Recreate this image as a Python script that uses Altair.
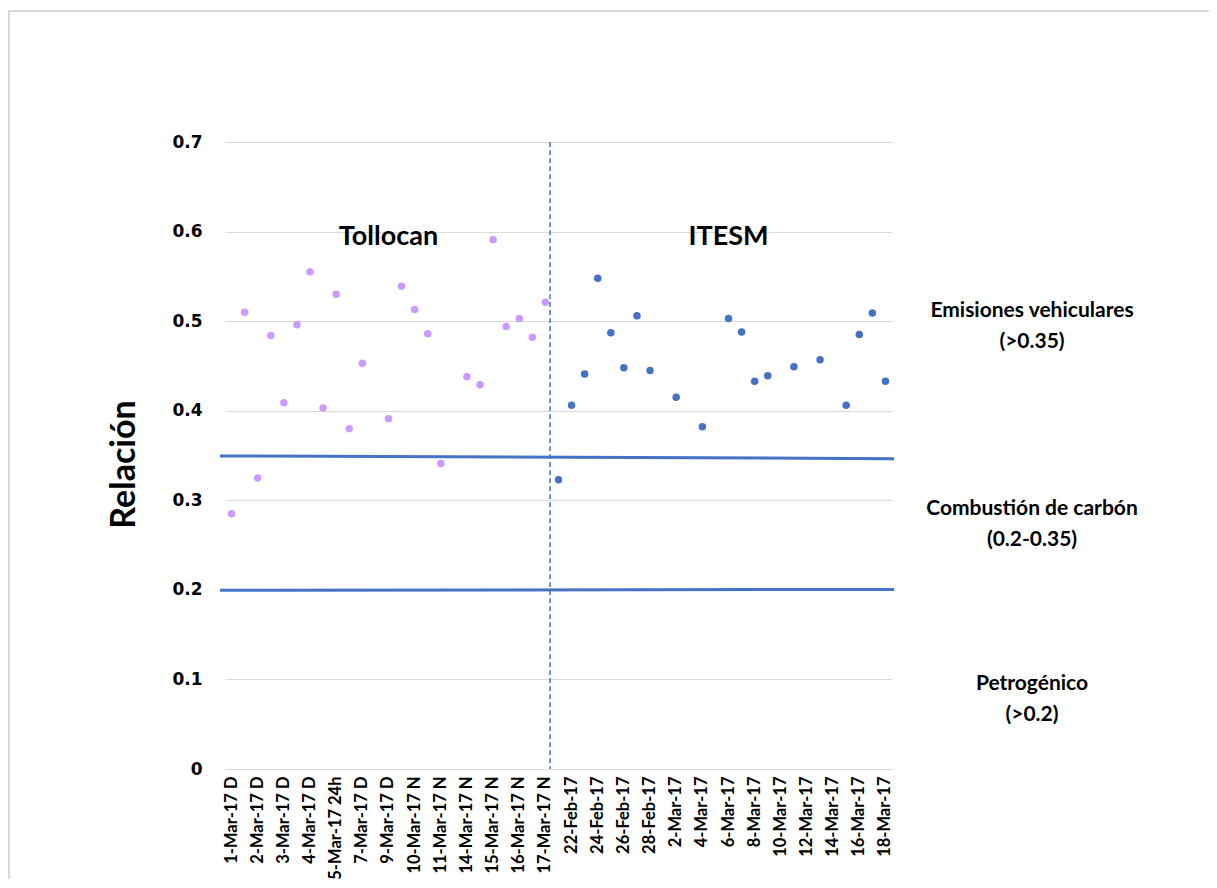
import altair as alt
import pandas as pd

# ---- data ----
tollocan_cats = [
    "1-Mar-17 D", "1-Mar-17 N", "2-Mar-17 D", "2-Mar-17 N", "3-Mar-17 D",
    "3-Mar-17 N", "4-Mar-17 D", "4-Mar-17 N", "5-Mar-17 24h", "6-Mar-17 24h",
    "7-Mar-17 D", "8-Mar-17 D", "9-Mar-17 D", "9-Mar-17 N", "10-Mar-17 N",
    "11-Mar-17 D", "11-Mar-17 N", "13-Mar-17 N", "14-Mar-17 N", "15-Mar-17 D",
    "15-Mar-17 N", "16-Mar-17 D", "16-Mar-17 N", "17-Mar-17 D", "17-Mar-17 N",
]
tollocan_vals = [
    0.285, 0.510, 0.325, 0.484, 0.409, 0.496, 0.555, 0.403, 0.530, 0.380,
    0.453, None, 0.391, 0.539, 0.513, 0.486, 0.341, None, 0.438, 0.429,
    0.591, 0.494, 0.503, 0.482, 0.521,
]
itesm_cats = [
    "21-Feb-17", "22-Feb-17", "23-Feb-17", "24-Feb-17", "25-Feb-17",
    "26-Feb-17", "27-Feb-17", "28-Feb-17", "1-Mar-17", "2-Mar-17",
    "3-Mar-17", "4-Mar-17", "5-Mar-17", "6-Mar-17", "7-Mar-17",
    "8-Mar-17", "9-Mar-17", "10-Mar-17", "11-Mar-17", "12-Mar-17",
    "13-Mar-17", "14-Mar-17", "15-Mar-17", "16-Mar-17", "17-Mar-17",
    "18-Mar-17",
]
itesm_vals = [
    0.323, 0.406, 0.441, 0.548, 0.487, 0.448, 0.506, 0.445, None, 0.415,
    None, 0.382, None, 0.503, 0.488, 0.433, 0.439, None, 0.449, None,
    0.457, None, 0.406, 0.485, 0.509, 0.433,
]
sites = ["Tollocan", "ITESM"]
site_colors = ["#CC99FF", "#4472C4"]
site_label_cats = ["9-Mar-17 D", "6-Mar-17"]
site_label_y = [0.594, 0.594]

threshold_y_start = [0.3495, 0.1995]
threshold_y_end = [0.3465, 0.2005]

zone_texts = ["Emisiones vehiculares\n(>0.35)", "Combustión de carbón\n(0.2-0.35)", "Petrogénico\n(>0.2)"]
zone_y = [0.511, 0.290, 0.095]

y_ticks = [0, 0.1, 0.2, 0.3, 0.4, 0.5, 0.6, 0.7]

# ---- tables ----
all_cats = tollocan_cats + itesm_cats
shown_labels = all_cats[::2]

rows = []
for c, v in zip(tollocan_cats, tollocan_vals):
    if v is not None:
        rows.append({"cat": c, "value": v, "site": "Tollocan"})
for c, v in zip(itesm_cats, itesm_vals):
    if v is not None:
        rows.append({"cat": c, "value": v, "site": "ITESM"})
points_df = pd.DataFrame(rows)

W, H = 667, 627
xscale = alt.Scale(domain=all_cats, type="band", paddingInner=0, paddingOuter=0)
yscale = alt.Scale(domain=[0, 0.7], nice=False)

x_axis = alt.Axis(
    title=None, values=shown_labels, labelAngle=-90, labelFont="Lato",
    labelFontSize=16.5, labelFontWeight="bold", labelColor="#000000",
    labelPadding=7, labelOverlap=False, domain=False, ticks=False, grid=False,
)
y_axis = alt.Axis(
    title="Relación", values=y_ticks, grid=True, gridColor="#d9d9d9", gridWidth=1,
    domain=False, ticks=False, labelFont="DejaVu Sans", labelFontSize=17,
    labelFontWeight="bold", labelColor="#000000", labelPadding=23,
    labelExpr="datum.value == 0 ? '0' : format(datum.value, '.1f')",
    titleFont="Lato", titleFontSize=34, titleFontWeight="bold", titleColor="#000000",
    titlePadding=30, titleY=322,
)

points = alt.Chart(points_df).mark_circle(size=56, opacity=1).encode(
    x=alt.X("cat:N", scale=xscale, axis=x_axis, sort=all_cats),
    y=alt.Y("value:Q", scale=yscale, axis=y_axis),
    color=alt.Color("site:N", scale=alt.Scale(domain=sites, range=site_colors), legend=None),
)

border = alt.Chart(pd.DataFrame({"a": [0]})).mark_rect(
    fill=None, stroke="#d9d9d9", strokeWidth=2
).encode(
    x=alt.value(-216), x2=alt.value(W + 340), y=alt.value(-131), y2=alt.value(H + 140)
)

thr_df = pd.DataFrame({"y0": threshold_y_start, "y1": threshold_y_end})
thresholds = alt.Chart(thr_df).mark_rule(color="#4472C4", strokeWidth=3).encode(
    x=alt.value(-5), x2=alt.value(W + 2),
    y=alt.Y("y0:Q", scale=yscale), y2="y1:Q",
)

div_df = pd.DataFrame({"cat": [tollocan_cats[-1]], "top": [0.7], "bottom": [0.0]})
divider = alt.Chart(div_df).mark_rule(color="#4472C4", strokeWidth=1.5, strokeDash=[5, 3]).encode(
    x=alt.X("cat:N", scale=xscale, bandPosition=0.85),
    y=alt.Y("top:Q", scale=yscale), y2="bottom:Q",
)

lab_df = pd.DataFrame({"cat": site_label_cats, "y": site_label_y, "text": sites})
site_labels = alt.Chart(lab_df).mark_text(
    font="Lato", fontSize=27, fontWeight="bold", color="#000000", align="center", baseline="middle"
).encode(
    x=alt.X("cat:N", scale=xscale), y=alt.Y("y:Q", scale=yscale), text="text:N"
)

zone_df = pd.DataFrame({"y": zone_y, "text": zone_texts})
zones = alt.Chart(zone_df).mark_text(
    font="Lato", fontSize=21, fontWeight="bold", color="#000000", align="center",
    baseline="middle", lineBreak="\n", lineHeight=31,
).encode(
    x=alt.value(W + 140), y=alt.Y("y:Q", scale=yscale), text="text:N"
)

chart = alt.layer(border, points, thresholds, divider, site_labels, zones).properties(
    width=W, height=H,
    autosize=alt.AutoSizeParams(type="none"),
    padding={"left": 217, "top": 134, "right": 317, "bottom": 110},
    background="white",
).configure_view(stroke=None)

chart.save("out.html", embed_options={"renderer": "svg", "actions": False})
